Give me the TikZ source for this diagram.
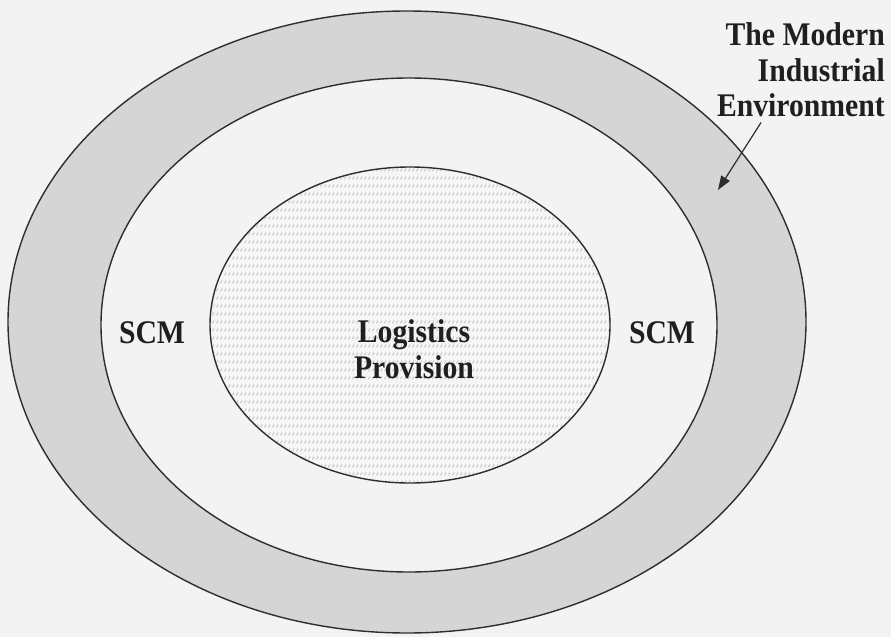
\documentclass[tikz,border=0pt]{standalone}
\usepackage{fontspec}
\setmainfont{Liberation Serif}[FakeStretch=0.9]
\usetikzlibrary{shapes.geometric,arrows.meta,patterns.meta}

\definecolor{paper}{HTML}{F3F3F3}
\definecolor{ringgrey}{HTML}{D5D5D5}
\definecolor{edge}{HTML}{2E2E2E}

% rows of short slanted strokes for the core region
\pgfdeclarepattern{
  name=slantrows,
  parameters={},
  bottom left={\pgfpoint{0pt}{0pt}},
  top right={\pgfpoint{4pt}{8pt}},
  tile size={\pgfpoint{4pt}{8pt}},
  tile transformation={},
  code={
    \pgfsetlinewidth{0.8pt}
    \pgfpathmoveto{\pgfpoint{0.6pt}{2pt}}
    \pgfpathlineto{\pgfpoint{2.6pt}{5pt}}
    \pgfusepath{stroke}
  }
}

\tikzset{
  ring/.style={ellipse, draw=edge, line width=1.4pt, inner sep=0pt},
  lbl/.style={font=\bfseries\fontsize{33}{36}\selectfont, text=black!88, inner sep=0pt},
  pointer/.style={draw=edge, line width=1.2pt, -{Triangle[length=14pt,width=10pt]}}
}

\begin{document}
\begin{tikzpicture}[x=1pt,y=-1pt]
  \useasboundingbox[fill=paper] (0,0) rectangle (891,637);

  % nested regions
  \node[ring, fill=ringgrey, minimum width=798pt, minimum height=622pt] (env) at (407,322) {};
  \node[ring, fill=paper, minimum width=616pt, minimum height=494pt] (scm) at (409,325) {};
  \node[ring, fill=white!96!black, minimum width=400pt, minimum height=316pt] (core) at (410,325) {};
  \node[ellipse, inner sep=0pt, minimum width=398pt, minimum height=314pt,
        pattern=slantrows, pattern color=black!30] (corehatch) at (410,325) {};

  % labels
  \node[lbl, anchor=base] (scmL) at (152,343) {SCM};
  \node[lbl, anchor=base] (scmR) at (662,343) {SCM};
  \node[lbl, anchor=base] (logi) at (414,342) {Logistics};
  \node[lbl, anchor=base] (prov) at (414,378) {Provision};

  \node[lbl, anchor=base east] (t1) at (885,45) {The Modern};
  \node[lbl, anchor=base east] (t2) at (885,81) {Industrial};
  \node[lbl, anchor=base east] (t3) at (885,116) {Environment};

  \coordinate (tip) at (718,190);
  \draw[pointer] (t3.south -| 761,0) ++(0,6) coordinate (tail) -- (tip);
\end{tikzpicture}
\end{document}
